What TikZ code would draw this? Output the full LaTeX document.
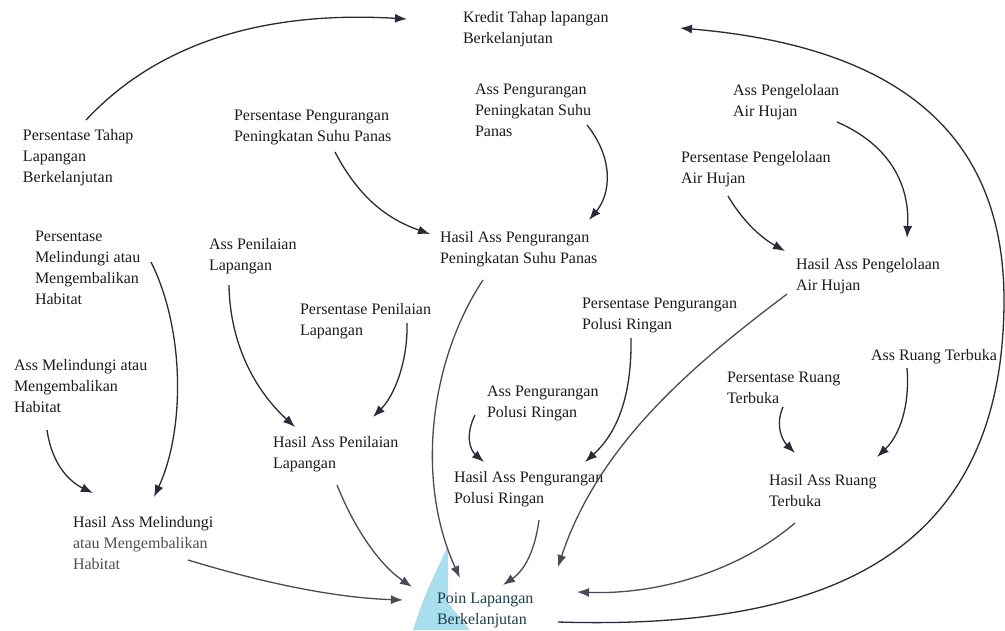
\documentclass[tikz,border=0pt]{standalone}
\usepackage{fontspec}
\setmainfont{Liberation Serif}
\usetikzlibrary{arrows.meta}
\definecolor{ink}{HTML}{1C1C1C}
\definecolor{softink}{HTML}{505050}
\definecolor{tealink}{HTML}{1C3F45}
\definecolor{arrowc}{HTML}{2A2A38}
\definecolor{arrowlow}{HTML}{4A4A58}
\definecolor{water}{HTML}{A9DEEE}
% stacked lines whose baseline is the first line
\newcommand{\stack}[1]{\begin{tabular}[t]{@{}l@{}}#1\end{tabular}}
\begin{document}
\begin{tikzpicture}[x=1pt,y=-1pt,
  lbl/.style={anchor=base west, inner sep=0pt, outer sep=0pt,
    text=ink, font=\fontsize{16}{21}\selectfont},
  arr/.style={draw=arrowc, line width=1.3pt, -{Latex[length=12pt,width=9pt]}},
  arrlow/.style={arr, draw=arrowlow}]
\useasboundingbox (0,0) rectangle (1005,630);
\fill[white] (0,0) rectangle (1005,630);

% pale water wedge behind the bottom label
\fill[water] (413,630) .. controls (425,590) and (440,565) .. (448,545)
  -- (448,603) -- (470,630) -- cycle;

% labels (anchored at the baseline of their first line)
\node[lbl] (kredit) at (463,22) {\stack{Kredit Tahap lapangan\\Berkelanjutan}};
\node[lbl] (pTahap) at (23,140) {\stack{Persentase Tahap\\Lapangan\\Berkelanjutan}};
\node[lbl] (pSuhu) at (234,120) {\stack{Persentase Pengurangan\\Peningkatan Suhu Panas}};
\node[lbl] (aSuhu) at (475,94) {\stack{Ass Pengurangan\\Peningkatan Suhu\\Panas}};
\node[lbl] (aAir) at (733,95) {\stack{Ass Pengelolaan\\Air Hujan}};
\node[lbl] (pAir) at (681,162) {\stack{Persentase Pengelolaan\\Air Hujan}};
\node[lbl] (hSuhu) at (440,242) {\stack{Hasil Ass Pengurangan\\Peningkatan Suhu Panas}};
\node[lbl] (hAir) at (796,269) {\stack{Hasil Ass Pengelolaan\\Air Hujan}};
\node[lbl] (pHab) at (35,241) {\stack{Persentase\\Melindungi atau\\Mengembalikan\\Habitat}};
\node[lbl] (aNilai) at (209,249) {\stack{Ass Penilaian\\Lapangan}};
\node[lbl] (pNilai) at (300,314) {\stack{Persentase Penilaian\\Lapangan}};
\node[lbl] (pPolusi) at (582,308) {\stack{Persentase Pengurangan\\Polusi Ringan}};
\node[lbl] (aHab) at (14,370) {\stack{Ass Melindungi atau\\Mengembalikan\\Habitat}};
\node[lbl] (aPolusi) at (487,396) {\stack{Ass Pengurangan\\Polusi Ringan}};
\node[lbl] (pRuang) at (727,382) {\stack{Persentase Ruang\\Terbuka}};
\node[lbl] (aRuang) at (871,360) {Ass Ruang Terbuka};
\node[lbl] (hNilai) at (273,447) {\stack{Hasil Ass Penilaian\\Lapangan}};
\node[lbl] (hPolusi) at (454,482) {\stack{Hasil Ass Pengurangan\\Polusi Ringan}};
\node[lbl] (hRuang) at (769,485) {\stack{Hasil Ass Ruang\\Terbuka}};
\node[lbl] (hHab) at (73,527) {\stack{Hasil Ass Melindungi\\\textcolor{softink}{atau Mengembalikan}\\\textcolor{softink}{Habitat}}};
\node[lbl, text=tealink] (poin) at (437,603) {\stack{Poin Lapangan\\Berkelanjutan}};

% waypoint on the right of the long return arc
\coordinate (arcR) at (1004,300);

% connectors
\draw[arr] ([shift={(63,-20)}]pTahap.base west) .. controls +(84,-90) and +(-117,-7) .. ([shift={(-56,-3)}]kredit.base west);
\draw[arr] ([shift={(121,19)}]poin.base west) .. controls +(262,8) and +(0,260) .. (arcR)
  .. controls +(0,-180) and +(200,17) .. ([shift={(217,6)}]kredit.base west);

\draw[arr] ([shift={(101,32)}]pSuhu.base west) .. controls +(25,48) and +(-40,-14) .. ([shift={(-10,-8)}]hSuhu.base west);
\draw[arr] ([shift={(112,31)}]aSuhu.base west) .. controls +(28,35) and +(21,-25) .. ([shift={(149,-22)}]hSuhu.base west);
\draw[arr] ([shift={(104,27)}]aAir.base west) .. controls +(53,23) and +(3,-53) .. ([shift={(111,-31)}]hAir.base west);
\draw[arr] ([shift={(47,34)}]pAir.base west) .. controls +(17,29) and +(-20,-11) .. ([shift={(-11,-18)}]hAir.base west);

\draw[arr] ([shift={(116,21)}]pHab.base west) .. controls +(34,68) and +(31,-67) .. ([shift={(81,-30)}]hHab.base west);
\draw[arr] ([shift={(33,60)}]aHab.base west) .. controls +(5,35) and +(-23,-11) .. ([shift={(20,-34)}]hHab.base west);
\draw[arr] ([shift={(20,36)}]aNilai.base west) .. controls +(1,65) and +(-35,-32) .. ([shift={(22,-20)}]hNilai.base west);
\draw[arr] ([shift={(107,9)}]pNilai.base west) .. controls +(1,37) and +(22,-22) .. ([shift={(100,-30)}]hNilai.base west);
\draw[arr] ([shift={(49,30)}]pPolusi.base west) .. controls +(1,62) and +(30,-27) .. ([shift={(131,-20)}]hPolusi.base west);
\draw[arr] ([shift={(-12,19)}]aPolusi.base west) .. controls +(-10,20) and +(-14,-12) .. ([shift={(30,-20)}]hPolusi.base west);
\draw[arr] ([shift={(56,25)}]pRuang.base west) .. controls +(-8,18) and +(-13,-13) .. ([shift={(26,-32)}]hRuang.base west);
\draw[arr] ([shift={(36,8)}]aRuang.base west) .. controls +(3,37) and +(23,-22) .. ([shift={(108,-28)}]hRuang.base west);

\draw[arrlow] ([shift={(43,38)}]hSuhu.base west) .. controls +(-53,80) and +(-45,-98) .. ([shift={(23,-25)}]poin.base west);
\draw[arrlow] ([shift={(-9,25)}]hAir.base west) .. controls +(-87,66) and +(42,-127) .. ([shift={(121,-36)}]poin.base west);
\draw[arrlow] ([shift={(85,38)}]hPolusi.base west) .. controls +(-4,30) and +(22,-15) .. ([shift={(66,-18)}]poin.base west);
\draw[arrlow] ([shift={(26,38)}]hRuang.base west) .. controls +(-55,47) and +(83,3) .. ([shift={(140,-11)}]poin.base west);
\draw[arrlow] ([shift={(64,38)}]hNilai.base west) .. controls +(18,45) and +(-32,-22) .. ([shift={(-25,-16)}]poin.base west);
\draw[arrlow] ([shift={(115,33)}]hHab.base west) .. controls +(82,25) and +(-63,-2) .. ([shift={(-34,-3)}]poin.base west);
\end{tikzpicture}
\end{document}
